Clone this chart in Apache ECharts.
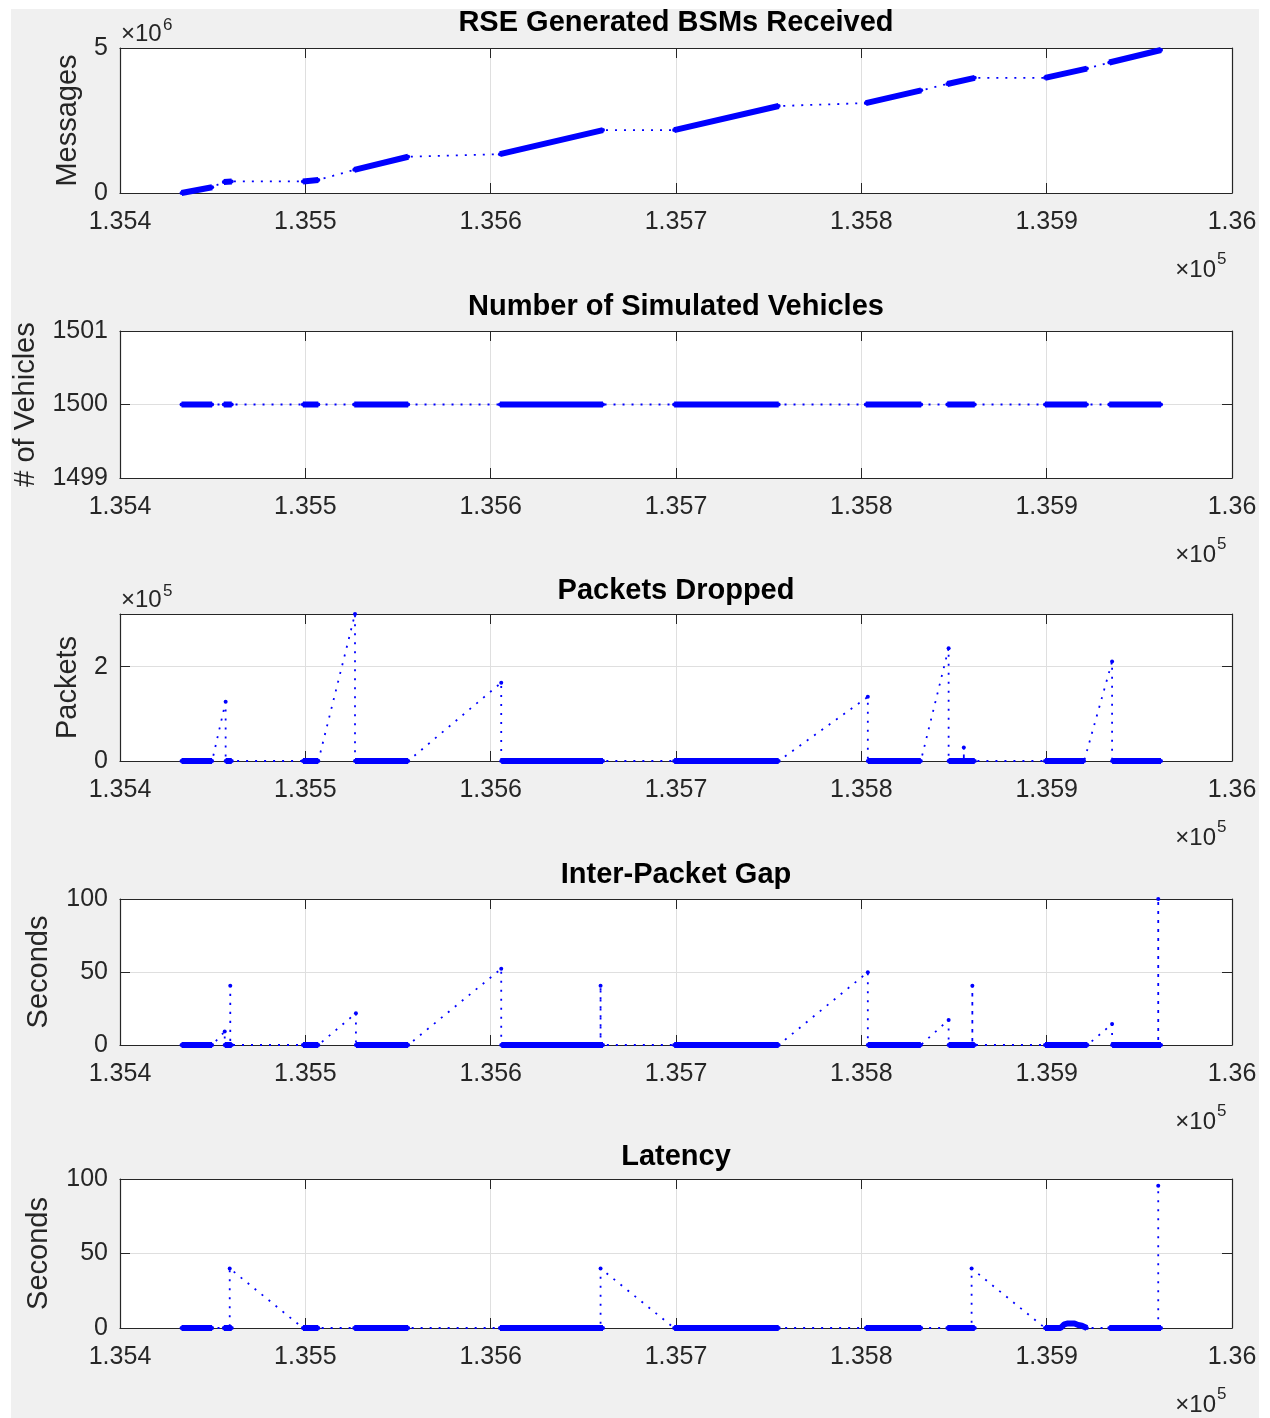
<!DOCTYPE html>
<html>
<head>
<meta charset="utf-8">
<script src="https://cdn.jsdelivr.net/npm/echarts@6.0.0/dist/echarts.min.js"></script>
<style>
html,body{margin:0;padding:0;background:#ffffff;}
#bg{position:absolute;left:11px;top:9px;width:1248px;height:1409px;background:#f0f0f0;}
#chart{position:absolute;left:0;top:0;width:1270px;height:1418px;}
</style>
</head>
<body>
<div id="bg"></div>
<div id="chart"></div>
<script>
// ---------------- data (time in seconds) ----------------
const xMin = 135400, xMax = 136000, xStep = 100;
const xTickLabels = ['1.354','1.355','1.356','1.357','1.358','1.359','1.36'];

// dense recording runs (start / end time)
const runStart = [135433.2,135456.0,135498.7,135526.4,135605.0,135699.0,135802.4,135846.4,135899.1,135933.8];
const runEnd   = [135449.7,135460.3,135507.0,135555.5,135660.6,135755.4,135832.3,135861.2,135921.7,135961.7];

// RSE Generated BSMs Received
const bsmTime  = [135433.2,135449.7,135456.0,135460.3,135498.7,135507.0,135526.4,135555.5,135605.0,135660.6,135699.0,135755.4,135802.4,135832.3,135846.4,135861.2,135899.1,135921.7,135933.8,135961.7];
const bsmValue = [0,200000,380000,400000,400000,450000,800000,1250000,1340000,2170000,2170000,3000000,3100000,3540000,3760000,3970000,3970000,4290000,4500000,4930000];
const bsmTickLabels = {0:'0',5000000:'5'};

// Number of Simulated Vehicles
const vehTime  = [135433.2,135449.7,135456.0,135460.3,135498.7,135507.0,135526.4,135555.5,135605.0,135660.6,135699.0,135755.4,135802.4,135832.3,135846.4,135861.2,135899.1,135921.7,135933.8,135961.7];
const vehValue = [1500,1500,1500,1500,1500,1500,1500,1500,1500,1500,1500,1500,1500,1500,1500,1500,1500,1500,1500,1500];
const vehTickLabels = {1499:'1499',1500:'1500',1501:'1501'};

// Packets Dropped
const dropTime  = [135433.2,135449.7,135457.0,135457.0,135460.3,135498.7,135507.0,135526.8,135526.8,135555.5,135605.7,135605.7,135660.6,135699.0,135755.4,135803.5,135803.5,135832.1,135847.1,135847.1,135855.3,135855.3,135855.3,135861.2,135899.1,135920.2,135935.3,135935.3,135961.7];
const dropValue = [0,0,125500,0,0,0,0,311500,0,0,166000,0,0,0,0,136000,0,0,239000,0,0,28500,0,0,0,0,210600,0,0];
const dropTickLabels = {0:'0',200000:'2'};

// Inter-Packet Gap
const gapTime  = [135433.2,135449.7,135456.5,135456.5,135459.5,135459.5,135459.5,135460.3,135498.7,135507.0,135527.3,135527.3,135555.5,135605.7,135605.7,135659.3,135659.3,135659.3,135660.6,135699.0,135755.4,135803.5,135803.5,135832.1,135847.1,135847.1,135859.9,135859.9,135859.9,135861.2,135899.1,135922.0,135935.3,135935.3,135960.2,135960.2,135960.2,135961.7];
const gapValue = [0,0,9.2,0,0,40.5,0,0,0,0,21.8,0,0,52.2,0,0,40.5,0,0,0,0,49.9,0,0,17.2,0,0,40.5,0,0,0,0,14.4,0,0,100,0,0];

// Latency
const latTime  = [135433.2,135449.7,135456.0,135460.3,135459.2,135459.2,135498.7,135507.0,135526.4,135555.5,135605.0,135660.6,135659.3,135659.3,135699.0,135755.4,135802.4,135832.3,135846.4,135861.2,135859.5,135859.5,135899.1,135907.5,135909.5,135911.0,135915.0,135917.0,135919.0,135921.7,135933.8,135961.7,135960.2,135960.2];
const latValue = [0,0,0,0,0,40,0,0,0,0,0,0,0,40,0,0,0,0,0,0,0,40,0,0,2.5,3,3,2,1.5,0,0,0,0,95.5];
const secTickLabels = {0:'0',50:'50',100:'100'};

// ---------------- helpers ----------------
const FONT = '"Liberation Sans", Arial, Helvetica, sans-serif';
const AX = '#262626';
const GRIDC = '#dfdfdf';
const BLUE = '#0000ff';
const TOL = 1.5;

function runOf(t){
  for(let k=0;k<runStart.length;k++){
    if(t>=runStart[k]-TOL && t<=runEnd[k]+TOL) return k;
  }
  return -1;
}
function isDense(t0,t1){
  if(t0===t1) return false;
  const a = runOf(t0);
  return a>=0 && a===runOf(t1);
}
function allPoints(ts,vs){ return ts.map((t,i)=>[t,vs[i]]); }
function densePoints(ts,vs){
  const out=[]; let open=false;
  for(let i=0;i<ts.length-1;i++){
    if(isDense(ts[i],ts[i+1])){
      if(!open) out.push([ts[i],vs[i]]);
      out.push([ts[i+1],vs[i+1]]);
      open=true;
    } else if(open){
      out.push(['-','-']); open=false;
    }
  }
  return out;
}

const panels = [
  {title:'RSE Generated BSMs Received', titleY:23, top:48, height:145, t:bsmTime, v:bsmValue,
   yMin:0, yMax:5000000, yStep:5000000, labels:bsmTickLabels, name:'Messages', nameGap:38, exp:'6'},
  {title:'Number of Simulated Vehicles', titleY:307, top:331, height:147, t:vehTime, v:vehValue,
   yMin:1499, yMax:1501, yStep:1, labels:vehTickLabels, name:'# of Vehicles', nameGap:80, exp:null},
  {title:'Packets Dropped', titleY:590.5, top:614, height:147, t:dropTime, v:dropValue,
   yMin:0, yMax:Math.max(...dropValue), yStep:200000, labels:dropTickLabels, name:'Packets', nameGap:38, exp:'5'},
  {title:'Inter-Packet Gap', titleY:875, top:899, height:146, t:gapTime, v:gapValue,
   yMin:0, yMax:100, yStep:50, labels:secTickLabels, name:'Seconds', nameGap:67, exp:null},
  {title:'Latency', titleY:1157, top:1179, height:149, t:latTime, v:latValue,
   yMin:0, yMax:100, yStep:50, labels:secTickLabels, name:'Seconds', nameGap:67, exp:null}
];

const LEFT = 120, WIDTH = 1112;
const option = {animation:false, grid:[], xAxis:[], yAxis:[], series:[], graphic:{elements:[]}};

function txt(x,y,text,font,align,valign,fill){
  return {type:'text', x:x, y:y, silent:true,
    style:{text:text, font:font, fill:fill||AX, align:align, verticalAlign:valign, textAlign:align, textVerticalAlign:valign}};
}

panels.forEach((p,i)=>{
  option.grid.push({left:LEFT, width:WIDTH, top:p.top, height:p.height, show:true, backgroundColor:'#ffffff', borderWidth:0});
  const tickStyle = {show:true, inside:true, length:10, lineStyle:{color:AX, width:1}};
  const lineStyle = {show:true, onZero:false, lineStyle:{color:AX, width:1.2}};
  option.xAxis.push({
    type:'value', gridIndex:i, position:'bottom', min:xMin, max:xMax, interval:xStep,
    axisLine:lineStyle, axisTick:tickStyle,
    axisLabel:{show:true, margin:17, color:AX, fontSize:25, fontFamily:FONT, showMinLabel:true, showMaxLabel:true,
      formatter:v=>xTickLabels[Math.round((v-xMin)/xStep)] ?? ''},
    splitLine:{show:true, lineStyle:{color:GRIDC, width:1}}
  });
  option.xAxis.push({
    type:'value', gridIndex:i, position:'top', min:xMin, max:xMax, interval:xStep,
    axisLine:lineStyle, axisTick:tickStyle, axisLabel:{show:false}, splitLine:{show:false}
  });
  option.yAxis.push({
    type:'value', gridIndex:i, position:'left', min:p.yMin, max:p.yMax, interval:p.yStep,
    axisLine:lineStyle, axisTick:tickStyle,
    axisLabel:{show:true, margin:12, color:AX, fontSize:25, fontFamily:FONT, showMinLabel:true, showMaxLabel:true,
      formatter:(labels=>v=>labels[v] ?? '')(p.labels)},
    splitLine:{show:true, lineStyle:{color:GRIDC, width:1}},
    name:p.name, nameLocation:'middle', nameGap:p.nameGap,
    nameTextStyle:{fontSize:29, color:AX, fontFamily:FONT}
  });
  option.yAxis.push({
    type:'value', gridIndex:i, position:'right', min:p.yMin, max:p.yMax, interval:p.yStep,
    axisLine:lineStyle, axisTick:tickStyle, axisLabel:{show:false}, splitLine:{show:false}
  });
  option.series.push({
    type:'line', xAxisIndex:2*i, yAxisIndex:2*i, data:allPoints(p.t,p.v), z:2, silent:true,
    symbol:'circle', symbolSize:4, showSymbol:true, itemStyle:{color:BLUE}, emphasis:{disabled:true},
    lineStyle:{color:BLUE, width:1.8, type:[2,7], cap:'butt'}
  });
  option.series.push({
    type:'line', xAxisIndex:2*i, yAxisIndex:2*i, data:densePoints(p.t,p.v), z:3, silent:true,
    symbol:'none', connectNulls:false, emphasis:{disabled:true},
    lineStyle:{color:BLUE, width:6, type:'solid', cap:'butt'}
  });
  const el = option.graphic.elements;
  el.push(txt(676, p.titleY, p.title, 'bold 29px '+FONT, 'center', 'middle', '#000000'));
  const bottom = p.top + p.height;
  el.push(txt(1216, bottom+77, '×10', '24px '+FONT, 'right', 'middle'));
  el.push(txt(1217, bottom+66, '5', '17px '+FONT, 'left', 'middle'));
  if(p.exp){
    el.push(txt(121, p.top-14, '×10', '24px '+FONT, 'left', 'middle'));
    el.push(txt(163, p.top-23, p.exp, '17px '+FONT, 'left', 'middle'));
  }
});

const chart = echarts.init(document.getElementById('chart'), null, {renderer:'canvas'});
chart.setOption(option);
</script>
</body>
</html>
